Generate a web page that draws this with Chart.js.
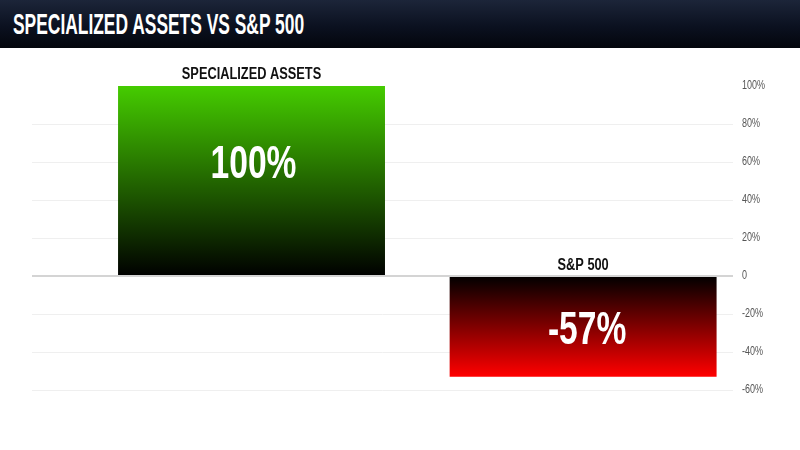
<!DOCTYPE html>
<html>
<head>
<meta charset="utf-8">
<script src="https://cdn.jsdelivr.net/npm/chart.js@4/dist/chart.umd.min.js"></script>
<style>
  html, body { margin: 0; padding: 0; background: #fff; }
  body { width: 800px; height: 450px; overflow: hidden; position: relative; }
  #header {
    position: absolute; left: 0; top: 0; width: 800px; height: 48px;
    background: linear-gradient(to bottom, #1c2539 0%, #0b1120 55%, #03060c 100%);
  }
  #title {
    position: absolute; left: 13px; top: 9px;
    font: bold 30px/30px 'Liberation Sans', Arial, sans-serif;
    color: #fff; white-space: nowrap;
    transform: scaleX(0.58); transform-origin: left top;
  }
  #wrap { position: absolute; left: 0; top: 48px; width: 800px; height: 402px; }
</style>
</head>
<body>
<div id="header"><div id="title">SPECIALIZED ASSETS VS S&amp;P 500</div></div>
<div id="wrap"><canvas id="chart"></canvas></div>
<script>
// --- Données ---
const categories = ['SPECIALIZED ASSETS', 'S&P 500'];
const values = [100, -53];            // hauteur des barres
const valueLabels = ['100%', '-57%']; // texte affiché dans les barres
const yTicks = [-60, -40, -20, 0, 20, 40, 60, 80, 100];

// couleurs des dégradés (haut, bas)
const gradients = [['#45cc00', '#000000'], ['#000000', '#ff0000']];

function condensedText(ctx, text, x, y, font, sx, align) {
    ctx.save();
    ctx.font = font;
    ctx.translate(x, y);
    ctx.scale(sx, 1);
    ctx.textAlign = align || 'center';
    ctx.fillText(text, 0, 0);
    ctx.restore();
}

// --- Étiquettes (catégories, valeurs, graduations) ---
const labelPlugin = {
    id: 'labels',
    afterDatasetsDraw(chart) {
        const ctx = chart.ctx;
        const meta = chart.getDatasetMeta(0);
        const yScale = chart.scales.y;
        const area = chart.chartArea;

        meta.data.forEach((bar, i) => {
            const top = Math.min(bar.y, bar.base);
            const bottom = Math.max(bar.y, bar.base);
            // nom de la catégorie au-dessus
            ctx.fillStyle = '#111';
            ctx.textBaseline = 'alphabetic';
            condensedText(ctx, categories[i], bar.x, top - 7, 'bold 16px "Liberation Sans", Arial, sans-serif', 0.8);
            // valeur dans la barre
            const frac = values[i] >= 0 ? 0.42 : 0.54;
            ctx.fillStyle = '#fff';
            ctx.textBaseline = 'middle';
            condensedText(ctx, valueLabels[i], bar.x + (values[i] < 0 ? 4 : 2), top + (bottom - top) * frac, 'bold 46px "Liberation Sans", Arial, sans-serif', 0.73);
        });

        // graduations à droite
        ctx.fillStyle = '#555';
        ctx.textBaseline = 'middle';
        yTicks.forEach(v => {
            const txt = v === 0 ? '0' : v + '%';
            condensedText(ctx, txt, area.right + 9, yScale.getPixelForValue(v), '12.5px "Liberation Sans", Arial, sans-serif', 0.72, 'left');
        });
    }
};

const ctx = document.getElementById('chart').getContext('2d');
new Chart(ctx, {
    type: 'bar',
    data: {
        datasets: [{
            data: values.map((v, i) => ({ x: i, y: v })),
            backgroundColor: context => {
                const chart = context.chart;
                const i = context.dataIndex;
                if (!chart.chartArea || i === undefined) return gradients[0][0];
                const y = chart.scales.y;
                const v = values[i];
                const g = chart.ctx.createLinearGradient(0, y.getPixelForValue(Math.max(v, 0)), 0, y.getPixelForValue(Math.min(v, 0)));
                g.addColorStop(0, gradients[i][0]);
                g.addColorStop(1, gradients[i][1]);
                return g;
            },
            borderWidth: 0,
            barPercentage: 0.805,
            categoryPercentage: 1
        }]
    },
    options: {
        responsive: true,
        maintainAspectRatio: false,
        animation: false,
        layout: { padding: { left: 32, right: 0, top: 38, bottom: 60 } },
        plugins: { legend: { display: false }, tooltip: { enabled: false } },
        scales: {
            x: {
                type: 'linear',
                display: false,
                offset: false,
                grid: { offset: false },
                min: -0.662,
                max: 1.452,
                ticks: { stepSize: 1, includeBounds: false }
            },
            y: {
                position: 'right',
                min: -60,
                max: 100,
                border: { display: false },
                afterFit: scale => { scale.width = 67; },
                ticks: { display: false, stepSize: 20 },
                grid: {
                    drawTicks: false,
                    color: c => c.tick.value === 0 ? '#d4d4d4' : (c.tick.value === 100 ? 'rgba(0,0,0,0)' : '#efefef'),
                    lineWidth: c => c.tick.value === 0 ? 2 : 1
                }
            }
        }
    },
    plugins: [labelPlugin]
});
</script>
</body>
</html>
